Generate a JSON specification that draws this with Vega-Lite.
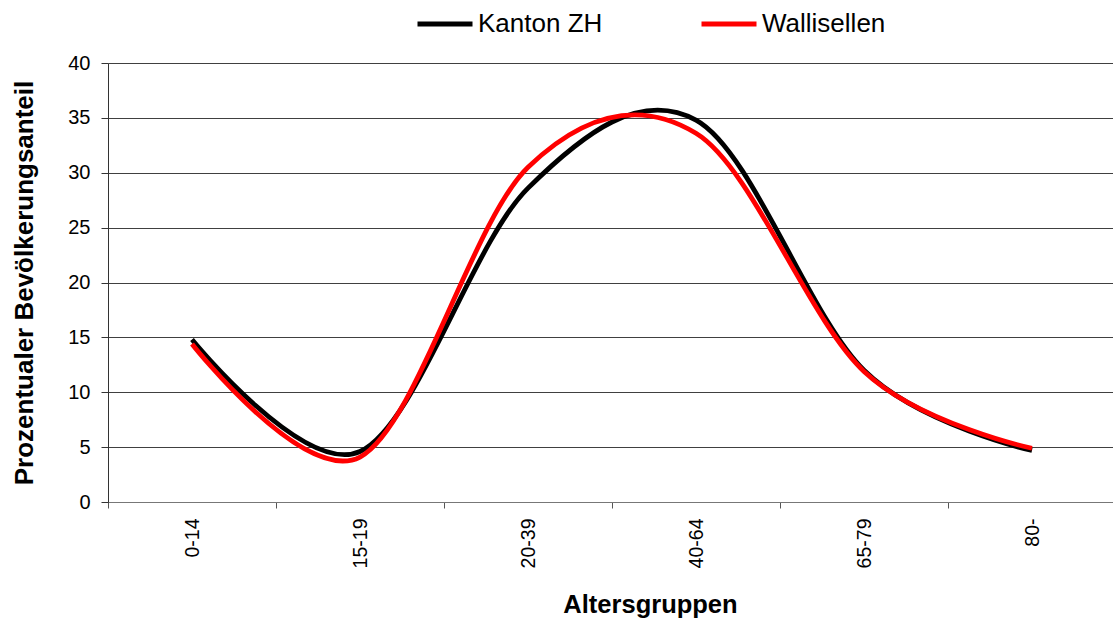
{
  "$schema": "https://vega.github.io/schema/vega-lite/v6.json",
  "width": 1008,
  "height": 439,
  "autosize": {"type": "none"},
  "padding": {"left": 108, "top": 63, "right": 0, "bottom": 117},
  "background": "white",
  "config": {
    "view": {"stroke": null},
    "font": "Liberation Sans",
    "axis": {"labelFont": "Liberation Sans", "titleFont": "Liberation Sans", "labelColor": "#000", "titleColor": "#000"},
    "legend": {"labelFont": "Liberation Sans"}
  },
  "data": {
    "values": [
      {"gruppe": "0-14", "serie": "Kanton ZH", "anteil": 14.8},
      {"gruppe": "15-19", "serie": "Kanton ZH", "anteil": 4.6},
      {"gruppe": "20-39", "serie": "Kanton ZH", "anteil": 28.6},
      {"gruppe": "40-64", "serie": "Kanton ZH", "anteil": 34.8},
      {"gruppe": "65-79", "serie": "Kanton ZH", "anteil": 12.0},
      {"gruppe": "80-", "serie": "Kanton ZH", "anteil": 4.7},
      {"gruppe": "0-14", "serie": "Wallisellen", "anteil": 14.4},
      {"gruppe": "15-19", "serie": "Wallisellen", "anteil": 4.1},
      {"gruppe": "20-39", "serie": "Wallisellen", "anteil": 30.5},
      {"gruppe": "40-64", "serie": "Wallisellen", "anteil": 33.6},
      {"gruppe": "65-79", "serie": "Wallisellen", "anteil": 11.9},
      {"gruppe": "80-", "serie": "Wallisellen", "anteil": 4.9}
    ]
  },
  "mark": {"type": "line", "interpolate": "cardinal", "strokeWidth": 4.8, "strokeCap": "butt"},
  "encoding": {
    "x": {
      "field": "gruppe",
      "type": "nominal",
      "sort": ["0-14", "15-19", "20-39", "40-64", "65-79", "80-"],
      "scale": {"type": "band", "paddingInner": 0, "paddingOuter": 0},
      "axis": {
        "title": "Altersgruppen",
        "titleFontSize": 25.5,
        "titleFontWeight": "bold",
        "titleX": 542,
        "titleY": 110,
        "titleBaseline": "alphabetic",
        "labelAngle": -90,
        "labelFontSize": 19.5,
        "labelPadding": 10,
        "tickBand": "extent",
        "tickSize": 6,
        "tickColor": "#555",
        "domainColor": "#777",
        "grid": false
      }
    },
    "y": {
      "field": "anteil",
      "type": "quantitative",
      "scale": {"domain": [0, 40], "nice": false},
      "axis": {
        "title": "Prozentualer Bevölkerungsanteil",
        "titleFontSize": 26,
        "titleFontWeight": "bold",
        "titleX": -76,
        "titleBaseline": "alphabetic",
        "values": [0, 5, 10, 15, 20, 25, 30, 35, 40],
        "labelFontSize": 20,
        "labelPadding": 11,
        "tickSize": 7,
        "tickColor": "#333",
        "domainColor": "#333",
        "grid": true,
        "gridColor": "#404040",
        "gridOpacity": 1
      }
    },
    "color": {
      "field": "serie",
      "type": "nominal",
      "scale": {"domain": ["Kanton ZH", "Wallisellen"], "range": ["#000000", "#ff0000"]},
      "legend": {
        "title": null,
        "orient": "none",
        "direction": "horizontal",
        "legendX": 307,
        "legendY": -69,
        "symbolType": "stroke",
        "symbolSize": 3025,
        "symbolStrokeWidth": 5,
        "labelFontSize": 26,
        "labelColor": "#000",
        "labelOffset": 3,
        "columnPadding": 88
      }
    }
  }
}
